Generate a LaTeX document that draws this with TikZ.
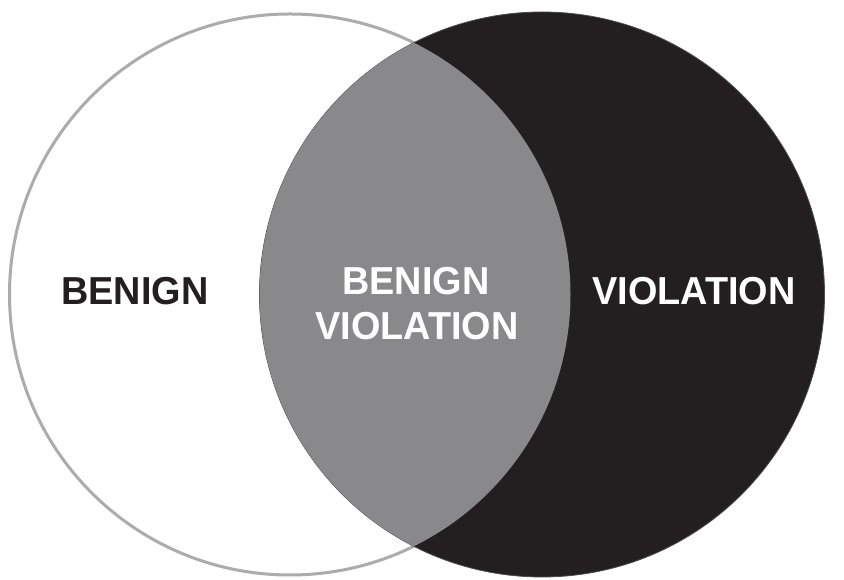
\documentclass[tikz,border=0pt]{standalone}
\usepackage{fontspec}
\setmainfont{Liberation Sans}
\definecolor{darkfill}{RGB}{35,31,32}
\definecolor{midgray}{RGB}{137,137,140}
\definecolor{rimgray}{RGB}{172,172,172}
\begin{document}
\begin{tikzpicture}[x=1pt,y=1pt,
  lbl/.style={font=\fontsize{39}{45}\selectfont\bfseries, anchor=base, inner sep=0pt, xscale=0.97},
  darklbl/.style={lbl, text=darkfill},
  lightlbl/.style={lbl, text=white}]
\useasboundingbox (0,0) rectangle (844,580);
\fill[white] (0,0) rectangle (844,580);
% left circle outline (benign)
\draw[rimgray, line width=3pt] (290,285.5) circle[radius=280.5];
% right circle (violation)
\fill[darkfill] (542,285.5) circle[radius=282.5];
\draw[black!70, line width=0.8pt] (542,285.5) circle[radius=282.5];
% intersection
\begin{scope}
  \clip (290,285.5) circle[radius=280.5];
  \fill[midgray] (542,285.5) circle[radius=282.5];
\end{scope}
% labels
\node[darklbl] (benign) at (135,275) {BENIGN};
\node[lightlbl] (bv1) at (416,285) {BENIGN};
\node[lightlbl] (bv2) at (417,240) {VIOLATION};
\node[lightlbl] (violation) at (694,275) {VIOLATION};
\end{tikzpicture}
\end{document}
